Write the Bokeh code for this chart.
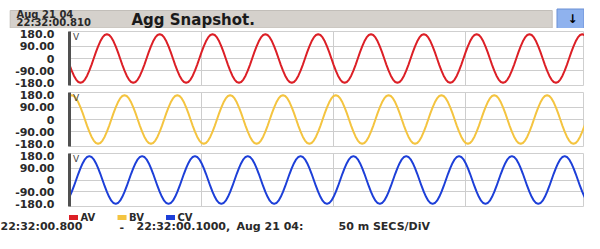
import numpy as np
from bokeh.plotting import figure
from bokeh.layouts import column
from bokeh.models import Range1d, FixedTicker
from bokeh.core.properties import value
from bokeh.embed import file_html
from bokeh.resources import INLINE

# ---------------- data ----------------
series_names = ["AV", "BV", "CV"]
series_colors = ["#dc1f26", "#f4c440", "#1d3fd8"]
# one sampled cycle of the waveform (volts), 24 samples per cycle
wave_cycle = [0, 47, 90, 127, 156, 174, 180, 174, 156, 127, 90, 47,
              0, -47, -90, -127, -156, -174, -180, -174, -156, -127, -90, -47]
cycle_ms = 20.0
peak_sample = [17, 1, 9]          # sample index of the first peak of each phase
n_samples = 240
y_ticks = [-180, -90, 0, 90, 180]
y_tick_labels = {-180: "-180.0", -90: "-90.00", 0: "0", 90: "90.00", 180: "180.0"}
y_grid = [-90, 0, 90]
x_grid_ms = [50, 100, 150]
x_window_ms = [0, 195]
header_date = "Aug 21 04"
header_time = "22:32:00.810"
title_text = "Agg Snapshot."
footer_parts = ["22:32:00.800", "-", "22:32:00.1000,", "Aug 21 04:", "50 m SECS/DiV"]
unit_label = "V"

# ---------------- layout ----------------
W = 584
FONT = value("DejaVu Sans")
TXT = "#2a2a2a"
sample_ms = cycle_ms / len(wave_cycle)


def blank(height):
    f = figure(width=W, height=height, x_range=Range1d(0, W), y_range=Range1d(height, 0),
               output_backend="svg", toolbar_location=None, min_border=0, frame_align=False)
    f.axis.visible = False
    f.grid.visible = False
    f.outline_line_color = None
    f.background_fill_color = "white"
    f.border_fill_color = "white"
    return f


# header
hdr = blank(28)
hdr.quad(left=[9.7], right=[551.7], top=[10], bottom=[27.5],
         fill_color="#d5d1cc", line_color="#c2beb9")
hdr.quad(left=[556.5], right=[583.5], top=[8.5], bottom=[28],
         fill_color="#8fb2ee", line_color="#6a8fd4")
hdr.text(x=[572], y=[18.5], text=["\u2193"], text_font=FONT, text_font_style="bold",
         text_font_size="12px", text_align="center", text_baseline="middle", text_color="black")
hdr.text(x=[16, 16], y=[13.5, 21.5], text=[header_date, header_time], text_font=FONT,
         text_font_style="bold", text_font_size="10px", text_baseline="middle", text_color=TXT)
hdr.text(x=[131], y=[19], text=[title_text], text_font=FONT, text_font_style="bold",
         text_font_size="15px", text_baseline="middle", text_color="#1a1a1a")

panels = []
t = np.arange(n_samples) * sample_ms
frames = [(3, 54, 4), (3, 54, 4), (3, 53, 4)]
for (name, color, pk), (bt, fh, bb) in zip(zip(series_names, series_colors, peak_sample), frames):
    idx = (np.arange(n_samples) - pk + 6) % len(wave_cycle)
    v = np.array(wave_cycle)[idx]
    p = figure(width=W, height=fh + bt + bb, x_range=Range1d(*x_window_ms),
               y_range=Range1d(-200, 200),
               output_backend="svg", toolbar_location=None, x_axis_location=None,
               min_border_top=bt, min_border_bottom=bb, min_border_left=69, min_border_right=0,
               frame_align=False)
    p.background_fill_color = "white"
    p.border_fill_color = "white"
    p.outline_line_color = "#cfcfcf"
    ax = p.yaxis[0]
    ax.ticker = FixedTicker(ticks=y_ticks)
    ax.major_label_overrides = y_tick_labels
    ax.major_tick_line_color = None
    ax.minor_tick_line_color = None
    ax.major_tick_out = 0
    ax.major_tick_in = 0
    ax.minor_tick_out = 0
    ax.axis_line_color = "#505050"
    ax.axis_line_width = 3
    ax.major_label_standoff = 15
    ax.major_label_text_font = "DejaVu Sans"
    ax.major_label_text_font_style = "bold"
    ax.major_label_text_font_size = "11px"
    ax.major_label_text_color = TXT
    p.ygrid.ticker = FixedTicker(ticks=y_grid)
    p.xgrid.ticker = FixedTicker(ticks=x_grid_ms)
    p.grid.grid_line_color = "#cdcdcd"
    p.grid.grid_line_width = 1
    p.line(t, v, line_color=color, line_width=2)
    p.text(x=[1.3], y=[198], text=[unit_label], text_font=FONT, text_font_size="9px",
           text_baseline="top", text_color="#444444")
    panels.append(p)

# footer: legend + time range
ftr = blank(23)
ftr.rect(x=[73, 121.5, 170], y=[7, 7, 7], width=9, height=5,
         fill_color=series_colors, line_color=None)
ftr.text(x=[80, 128.5, 177], y=[7, 7, 7], text=series_names, text_font=FONT,
         text_font_style="bold", text_font_size="10px", text_baseline="middle", text_color=TXT)
ftr.text(x=[0, 119, 136, 236, 338], y=[16.3] * 5, text=footer_parts, text_font=FONT,
         text_font_style="bold", text_font_size="11px", text_baseline="middle",
         text_color=TXT)

layout = column(hdr, *panels, ftr, spacing=0)
open("out.html", "w").write(file_html(layout, INLINE))
